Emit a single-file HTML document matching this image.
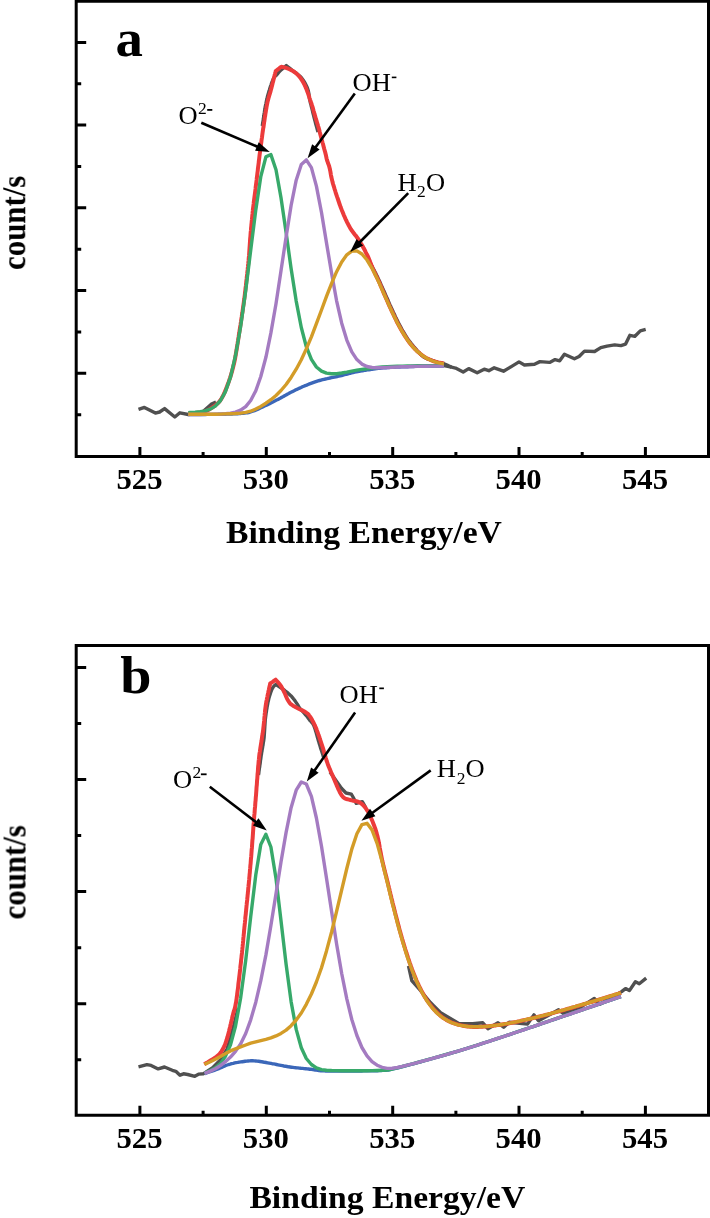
<!DOCTYPE html>
<html><head><meta charset="utf-8">
<style>
html,body{margin:0;padding:0;background:#fff;}
body{width:710px;height:1218px;overflow:hidden;}
svg{display:block;}
text{font-family:"Liberation Serif",serif;}
</style></head><body>
<svg width="710" height="1218" viewBox="0 0 710 1218">
<g stroke="#000" stroke-width="3" fill="none">
<path d="M76.2 1.3H708.5V456.4H76.2Z"/>
<path d="M76.2 42.4H86.2M76.2 125.12H86.2M76.2 207.84H86.2M76.2 290.56H86.2M76.2 373.28H86.2M76.2 83.75999999999999H81.2M76.2 166.48H81.2M76.2 249.20000000000002H81.2M76.2 331.91999999999996H81.2M76.2 414.64H81.2M139.9 456.4V446.9M266.3 456.4V446.9M392.7 456.4V446.9M519.0 456.4V446.9M645.4 456.4V446.9M203.1 456.4V451.9M329.5 456.4V451.9M455.9 456.4V451.9M582.2 456.4V451.9"/>
</g>
<g stroke="#000" stroke-width="3" fill="none">
<path d="M76.2 645.4H708.5V1115.3H76.2Z"/>
<path d="M76.2 667.4H86.2M76.2 779.5H86.2M76.2 891.5999999999999H86.2M76.2 1003.6999999999999H86.2M76.2 723.4499999999999H81.2M76.2 835.55H81.2M76.2 947.65H81.2M76.2 1059.75H81.2M139.9 1115.3V1105.8M266.3 1115.3V1105.8M392.7 1115.3V1105.8M519.0 1115.3V1105.8M645.4 1115.3V1105.8M203.1 1115.3V1110.8M329.5 1115.3V1110.8M455.9 1115.3V1110.8M582.2 1115.3V1110.8"/>
</g>
<g fill="none" stroke-width="3.4" stroke-linejoin="round" stroke-linecap="butt">
<path d="M138.5 409.4L144.4 407.4L155.4 413.1L159.6 412.0L164.6 408.6L174.8 417.0L179.9 412.8L188.3 414.5L202.0 412.5L211.0 404.4L216.0 402.0" stroke="#505050"/>
<path d="M443.9 365.5L451.5 367.2L455.5 368.1L463.2 372.0L468.7 368.6L477.2 372.7L484.2 369.2L488.8 370.7L494.2 367.8L503.5 371.2L511.3 366.6L519.0 361.9L524.4 365.0L534.5 364.2L539.9 361.6L549.6 362.4L555.1 359.6L559.7 360.8L564.4 354.2L574.4 358.8L579.1 356.5L584.5 351.1L594.6 351.5L600.8 347.6L607.0 346.1L614.7 344.9L620.9 345.6L625.6 344.1L629.9 335.3L634.9 336.3L640.3 330.9L645.7 329.4" stroke="#505050"/>
<path d="M262.3 126.0L262.4 125.1L262.6 123.8L262.8 122.3L263.1 120.7L263.4 118.9L263.6 117.1L263.9 115.4L264.1 113.8L264.4 112.3L264.6 110.7L264.9 109.2L265.1 107.7L265.4 106.2L265.7 104.7L266.0 103.3L266.3 101.7L266.6 100.3L267.0 98.8L267.3 97.3L267.7 95.8L268.1 94.3L268.5 92.9L268.9 91.4L269.4 90.0L269.8 88.5L270.3 86.9L270.9 85.3L271.4 83.7L272.0 82.2L272.5 80.8L273.0 79.6L273.5 78.5L274.6 76.8L275.5 75.9L276.6 74.9L277.5 73.8L278.5 72.6L279.6 71.4L280.7 70.3L282.0 69.2L283.4 68.0L284.7 66.9L285.8 66.0L286.3 65.6L287.2 66.3L288.5 67.3L289.9 68.4L291.4 69.6L292.6 70.5L293.9 71.5L295.1 72.3L296.2 73.2L297.4 74.1L298.5 75.0L299.7 76.0L300.8 77.0L301.8 78.2L302.7 79.4L303.6 80.7L304.5 82.1L305.3 83.5L306.0 84.9L306.6 86.2L307.2 87.5L307.7 88.9L308.2 90.5L308.5 91.8L308.8 93.3L309.0 94.8L309.2 96.4L309.4 98.0L309.7 99.5L310.0 101.0L310.3 102.5L310.7 103.9L311.1 105.3L311.4 106.8L311.9 108.4L312.2 109.9L312.6 111.3L312.9 112.8L313.3 114.4L313.7 115.9L314.1 117.5L314.5 119.0L314.9 120.5L315.3 122.1L315.7 123.8L316.2 125.5L316.7 127.2L317.1 128.9L317.5 130.3L317.8 131.4L318.0 132.0" stroke="#505050"/>
<path d="M368.0 259.9L368.5 260.7L369.1 261.8L369.9 263.0L370.8 264.4L371.7 265.9L372.6 267.5L373.5 269.0L374.2 270.4L374.9 271.7L375.6 273.0L376.2 274.3L376.9 275.7L377.6 277.1L378.2 278.5L378.9 279.9L379.6 281.3L380.2 282.7L380.8 284.1L381.4 285.5L382.1 286.9L382.7 288.3L383.3 289.7L383.9 291.1L384.6 292.5L385.2 293.9L385.8 295.3L386.4 296.7L387.0 298.1L387.7 299.5L388.3 301.0L388.9 302.4L389.5 303.8L390.1 305.2L390.8 306.6L391.4 307.9L392.0 309.3L392.7 310.7L393.3 312.2L394.0 313.6L394.7 315.0L395.3 316.5L396.0 317.9L396.7 319.2L397.3 320.6L398.0 321.9L398.7 323.3L399.4 324.7L400.2 326.1L400.9 327.4L401.6 328.7L402.3 330.0L403.0 331.3L403.8 332.5L404.6 333.8L405.4 335.2L406.3 336.6L407.1 337.9L408.0 339.2L408.9 340.4L409.7 341.6L410.7 342.9L411.7 344.2L412.7 345.4L413.7 346.6L414.7 347.7L415.7 348.8L416.7 350.1L417.8 351.3L418.8 352.5L419.8 353.6L420.8 354.6L422.0 355.7L423.3 356.7L424.6 357.5L426.0 358.3L427.4 358.9L428.9 359.4L430.5 359.8L432.0 360.3L433.5 360.8L435.0 361.4L436.5 361.9L438.0 362.4L439.4 362.7L440.8 363.0L442.3 363.2L443.9 363.7L445.3 364.3L447.0 365.0L448.6 365.8L450.1 366.5L451.2 367.1L451.5 367.2" stroke="#505050"/>
<path d="M188.3 413.5L189.3 413.4L190.5 413.3L192.0 413.2L193.7 413.1L195.5 413.0L197.4 412.8L199.1 412.6L200.8 412.4L202.3 412.1L203.8 411.7L205.4 411.2L206.8 410.7L208.0 410.1L209.3 409.4L210.5 408.6L211.8 407.8L213.0 407.0L214.2 406.2L215.4 405.3L216.6 404.3L217.7 403.3L218.9 402.1L220.0 400.8L220.8 399.6L221.5 398.5L222.2 397.3L222.9 396.1L223.5 394.8L224.2 393.4L224.8 391.9L225.5 390.4L226.1 388.8L226.8 387.1L227.3 385.7L227.7 384.5L228.2 383.2L228.7 381.9L229.1 380.6L229.6 379.2L230.1 377.8L230.5 376.4L231.0 374.9L231.4 373.4L231.9 371.9L232.3 370.3L232.7 368.8L233.1 367.2L233.5 365.6L233.9 364.0L234.2 362.7L234.5 361.3L234.8 359.9L235.1 358.5L235.3 357.1L235.6 355.7L235.8 354.2L236.1 352.7L236.3 351.3L236.6 349.7L236.8 348.2L237.1 346.7L237.3 345.1L237.6 343.5L237.8 341.9L238.1 340.3L238.3 338.7L238.6 337.0L238.8 335.6L239.0 334.2L239.3 332.7L239.5 331.2L239.7 329.7L240.0 328.2L240.2 326.6L240.5 325.0L240.7 323.4L241.0 321.8L241.2 320.3L241.4 318.7L241.7 317.1L241.9 315.5L242.1 313.9L242.4 312.4L242.6 310.9L242.8 309.4L243.0 307.9L243.2 306.5L243.4 305.2L243.6 303.9L243.8 302.4L244.0 300.6L244.3 298.9L244.5 297.2L244.7 295.7L244.9 294.1L245.0 292.7L245.2 291.2L245.4 289.8L245.5 288.4L245.7 287.0L245.9 285.7L246.0 284.3L246.2 282.9L246.3 281.4L246.5 280.0L246.7 278.5L246.8 277.0L247.0 275.5L247.2 274.0L247.3 272.5L247.5 271.0L247.7 269.5L247.8 268.0L248.0 266.5L248.1 265.0L248.3 263.5L248.4 262.0L248.6 260.5L248.7 259.0L248.8 257.5L249.0 256.0L249.1 254.6L249.2 253.1L249.3 251.7L249.4 250.2L249.5 248.7L249.6 247.2L249.7 245.8L249.8 244.3L249.9 242.8L250.0 241.2L250.1 239.7L250.2 238.2L250.4 236.6L250.5 235.0L250.6 233.6L250.7 232.1L250.9 230.7L251.0 229.2L251.1 227.7L251.3 226.1L251.4 224.6L251.6 223.1L251.7 221.6L251.9 220.0L252.0 218.5L252.2 217.0L252.3 215.4L252.5 213.9L252.6 212.4L252.8 210.9L252.9 209.5L253.1 208.0L253.3 206.4L253.5 204.9L253.7 203.4L253.8 201.9L254.0 200.4L254.2 198.9L254.4 197.4L254.6 196.0L254.8 194.5L255.0 193.0L255.2 191.5L255.4 190.0L255.6 188.5L255.7 187.0L255.9 185.5L256.1 184.0L256.3 182.5L256.5 181.0L256.7 179.5L256.8 178.0L257.0 176.4L257.2 174.9L257.4 173.3L257.6 171.8L257.8 170.3L257.9 168.7L258.1 167.2L258.3 165.7L258.5 164.3L258.7 162.8L258.8 161.4L259.0 160.0L259.2 158.4L259.4 156.7L259.6 155.1L259.8 153.5L260.0 151.9L260.2 150.3L260.4 148.8L260.6 147.3L260.8 145.8L261.0 144.4L261.2 143.0L261.4 141.6L261.5 140.3L261.7 139.1L262.0 137.2L262.2 135.5L262.4 134.0L262.6 132.5L262.8 131.1L263.0 129.8L263.2 128.4L263.5 127.0L263.7 125.5L263.9 124.0L264.1 122.4L264.4 120.8L264.6 119.3L264.8 117.7L265.1 116.2L265.3 114.7L265.5 113.3L265.8 111.7L266.0 110.1L266.3 108.6L266.5 107.2L266.8 105.7L267.1 104.2L267.4 102.7L267.7 101.2L268.1 99.9L268.4 98.5L268.8 97.2L269.2 95.8L269.6 94.4L270.1 92.8L270.6 91.1L271.0 89.5L271.4 88.1L271.8 86.6L272.2 85.0L272.6 83.3L273.1 81.5L273.5 79.8L273.9 78.0L274.4 76.4L274.7 74.9L275.1 73.5L275.4 72.3L275.6 71.4L275.7 71.1L276.7 70.3L278.2 69.2L279.7 67.9L280.9 67.0L281.2 66.8L282.4 67.0L284.2 67.4L285.9 67.9L287.4 68.4L288.9 69.0L290.4 69.7L291.8 70.4L293.1 71.1L294.4 72.0L295.6 72.9L296.7 73.8L297.8 74.9L298.9 76.0L299.9 77.2L300.8 78.4L301.6 79.7L302.5 81.0L303.3 82.4L304.0 83.8L304.7 85.1L305.3 86.5L305.9 87.9L306.5 89.3L307.0 90.7L307.6 92.2L308.1 93.7L308.6 95.1L309.1 96.6L309.5 98.1L310.0 99.6L310.5 100.9L311.0 102.3L311.5 103.7L312.0 105.4L312.5 106.9L312.9 108.2L313.3 109.7L313.7 111.3L314.2 112.9L314.6 114.5L315.1 116.0L315.5 117.5L315.9 119.0L316.4 120.4L316.8 121.8L317.2 123.2L317.7 124.6L318.1 126.1L318.6 127.6L319.0 129.0L319.4 130.5L319.7 131.9L320.1 133.4L320.5 135.0L320.9 136.5L321.3 138.0L321.7 139.5L322.1 141.0L322.5 142.5L323.0 144.1L323.4 145.7L323.8 147.2L324.2 148.8L324.6 150.2L325.0 151.6L325.3 152.8L325.8 154.7L326.1 156.2L326.4 157.6L326.7 159.0L327.1 160.5L327.6 161.8L328.0 163.0L328.5 164.4L329.1 166.0L329.6 168.0L329.9 169.1L330.1 170.3L330.4 171.6L330.6 172.9L330.8 174.3L331.1 175.8L331.4 177.3L331.8 178.9L332.2 180.6L332.6 182.4L333.1 184.1L333.5 185.3L333.9 186.6L334.3 188.0L334.7 189.4L335.2 190.8L335.6 192.3L336.1 193.9L336.6 195.4L337.1 196.9L337.7 198.5L338.2 200.0L338.7 201.5L339.2 203.0L339.7 204.5L340.2 205.9L340.7 207.3L341.2 208.6L341.8 210.1L342.5 211.7L343.1 213.3L343.7 214.8L344.4 216.3L345.0 217.7L345.6 219.1L346.3 220.5L346.9 221.9L347.6 223.2L348.2 224.4L348.8 225.6L349.5 226.8L350.2 228.1L351.1 229.5L352.0 230.8L352.9 232.0L353.8 233.2L354.6 234.3L355.5 235.3L356.4 236.5L357.3 237.7L358.2 238.9L359.0 240.2L359.8 241.4L360.5 242.7L361.3 244.0L362.1 245.3L362.9 246.7L363.6 248.1L364.4 249.5L365.1 250.8L365.8 252.3L366.5 253.7L367.2 255.0L367.9 256.4L368.5 257.8L369.1 259.3L369.7 260.8L370.3 262.3L370.9 263.7L371.5 265.2L372.1 266.6L372.6 268.0L373.1 269.3L373.7 270.5L374.3 271.9L375.0 273.4L375.6 274.8L376.3 276.1L376.9 277.3L377.5 278.5L378.1 279.8L378.8 281.3L379.4 282.6L379.9 283.9L380.5 285.3L381.1 286.6L381.7 288.1L382.3 289.5L382.9 291.0L383.5 292.4L384.1 293.9L384.8 295.4L385.4 296.8L386.0 298.1L386.6 299.5L387.2 300.8L387.8 302.2L388.4 303.6L389.0 305.0L389.6 306.4L390.3 307.8L390.9 309.2L391.6 310.6L392.2 312.0L392.9 313.3L393.5 314.7L394.2 316.1L394.8 317.5L395.5 318.8L396.2 320.2L396.8 321.6L397.5 323.0L398.3 324.4L399.0 325.8L399.7 327.1L400.5 328.5L401.2 329.8L402.0 331.1L402.8 332.4L403.6 333.8L404.4 335.1L405.2 336.4L406.1 337.7L406.9 339.0L407.7 340.2L408.6 341.4L409.4 342.6L410.3 343.7L411.4 345.0L412.4 346.2L413.5 347.4L414.5 348.5L415.6 349.6L416.7 350.7L417.8 351.7L418.9 352.6L419.9 353.5L421.0 354.4L422.3 355.4L423.6 356.3L424.9 357.1L426.2 357.9L427.5 358.6L428.9 359.2L430.2 359.8L431.5 360.4L433.0 361.0L434.6 361.5L436.3 361.9L438.1 362.4L439.7 362.7L441.3 363.0L442.6 363.3L443.6 363.5L443.9 363.6" stroke="#ec3b3b" stroke-width="4.0"/>
<path d="M188.3 414.5L189.1 414.5L190.1 414.5L191.2 414.5L192.5 414.5L193.9 414.5L195.3 414.5L196.9 414.5L198.5 414.5L200.2 414.5L201.9 414.5L203.6 414.5L205.4 414.5L207.2 414.4L209.0 414.4L210.7 414.4L212.4 414.4L214.1 414.4L215.7 414.4L217.2 414.4L218.7 414.3L220.0 414.3L221.8 414.3L223.6 414.2L225.3 414.2L227.0 414.1L228.7 414.1L230.3 414.0L231.9 414.0L233.4 413.9L234.9 413.8L236.3 413.8L237.7 413.7L239.0 413.6L240.3 413.5L241.5 413.4L243.0 413.2L244.8 413.0L246.2 412.9L247.5 412.7L248.7 412.5L249.9 412.2L251.2 411.7L252.8 411.2L254.5 410.6L255.6 410.1L256.8 409.6L258.1 409.1L259.4 408.5L260.8 407.8L262.2 407.2L263.6 406.5L265.0 405.8L266.5 405.1L268.0 404.4L269.5 403.7L270.9 402.9L272.4 402.2L273.8 401.5L275.2 400.8L276.5 400.1L277.9 399.4L279.2 398.7L280.6 398.0L281.9 397.2L283.3 396.5L284.6 395.7L286.0 395.0L287.3 394.2L288.7 393.5L290.0 392.8L291.4 392.1L292.7 391.4L294.1 390.7L295.4 390.0L296.8 389.4L298.2 388.7L299.6 388.1L301.0 387.5L302.4 386.8L303.8 386.2L305.2 385.6L306.7 385.1L308.1 384.5L309.5 383.9L310.9 383.4L312.3 382.9L313.7 382.4L315.1 381.9L316.6 381.4L318.0 380.9L319.5 380.5L321.0 380.1L322.5 379.7L324.0 379.3L325.5 379.0L327.0 378.7L328.5 378.3L330.0 378.0L331.5 377.7L332.9 377.4L334.4 377.1L335.8 376.8L337.2 376.5L338.6 376.2L340.2 375.8L341.6 375.5L343.1 375.1L344.5 374.7L345.9 374.4L347.3 374.0L348.6 373.6L350.1 373.3L351.5 372.9L353.0 372.6L354.6 372.2L356.3 371.9L357.8 371.6L359.1 371.4L360.4 371.1L361.8 370.9L363.1 370.7L364.5 370.4L366.0 370.2L367.4 369.9L368.9 369.7L370.4 369.5L371.9 369.2L373.5 369.0L375.1 368.8L376.7 368.6L378.3 368.4L380.0 368.2L381.7 368.1L383.2 367.9L384.6 367.8L386.0 367.7L387.4 367.6L388.9 367.5L390.4 367.4L391.9 367.3L393.5 367.2L395.0 367.2L396.6 367.1L398.2 367.0L399.8 367.0L401.4 366.9L403.0 366.8L404.5 366.8L406.1 366.7L407.7 366.7L409.2 366.6L410.7 366.6L412.2 366.5L413.6 366.5L415.1 366.4L416.6 366.4L418.3 366.3L420.0 366.3L421.8 366.2L423.6 366.2L425.4 366.2L427.2 366.2L428.9 366.1L430.6 366.1L432.3 366.1L434.0 366.1L435.5 366.1L437.0 366.1L438.5 366.0L439.8 366.0L441.0 366.0L442.1 366.0L443.1 366.0L443.9 366.0" stroke="#3b67b9"/>
<path d="M188.3 412.6L190.1 412.5L195.1 412.2L200.2 411.7L205.2 410.8L210.3 409.1L215.3 406.1L220.4 400.8L225.4 391.6L230.5 377.1L235.5 355.7L240.6 326.7L245.7 290.7L250.7 250.2L255.8 209.9L260.8 176.6L265.9 156.8L270.9 154.6L276.0 169.7L281.0 197.7L286.1 232.6L291.1 268.6L296.2 301.1L301.3 327.5L306.3 346.7L311.4 359.4L316.4 367.0L321.5 371.1L326.5 373.1L331.6 373.8L336.6 373.7L341.7 373.0L346.8 372.1L351.8 371.1L356.9 370.2L361.9 369.4L367.0 368.7L372.0 368.0L377.1 367.5L382.1 367.0L387.2 366.7L392.2 366.5L397.3 366.3L402.4 366.1L407.4 366.0L412.5 365.9L417.5 365.8L422.6 365.7L427.6 365.6L432.7 365.6L437.7 365.6L442.8 365.6L443.9 365.6" stroke="#37a96a"/>
<path d="M188.3 414.5L190.1 414.5L195.1 414.5L200.2 414.5L205.2 414.4L210.3 414.4L215.3 414.3L220.4 414.1L225.4 413.8L230.5 413.2L235.5 412.1L240.6 410.1L245.7 406.6L250.7 400.5L255.8 390.7L260.8 376.5L265.9 357.3L270.9 332.9L276.0 303.7L281.0 270.8L286.1 236.9L291.1 205.5L296.2 180.2L301.3 164.4L306.3 159.9L311.4 167.6L316.4 186.1L321.5 212.5L326.5 242.9L331.6 273.3L336.6 300.8L341.7 323.2L346.8 340.1L351.8 351.9L356.9 359.6L361.9 364.1L367.0 366.5L372.0 367.5L377.1 367.7L382.1 367.7L387.2 367.5L392.2 367.2L397.3 367.0L402.4 366.8L407.4 366.7L412.5 366.5L417.5 366.4L422.6 366.2L427.6 366.2L432.7 366.1L437.7 366.1L442.8 366.0L443.9 366.0" stroke="#a47bc1"/>
<path d="M188.3 414.3L190.1 414.3L195.1 414.3L200.2 414.3L205.2 414.3L210.3 414.2L215.3 414.2L220.4 414.1L225.4 413.9L230.5 413.7L235.5 413.5L240.6 413.1L245.7 412.4L250.7 411.2L255.8 409.0L260.8 406.4L265.9 403.2L270.9 399.7L276.0 395.5L281.0 390.5L286.1 384.5L291.1 377.4L296.2 369.2L301.3 359.7L306.3 348.9L311.4 336.8L316.4 323.7L321.5 310.0L326.5 296.4L331.6 283.4L336.6 271.7L341.7 262.0L346.8 254.8L351.8 251.1L356.9 250.9L361.9 254.0L367.0 260.0L372.0 268.3L377.1 278.4L382.1 289.6L387.2 301.1L392.2 312.3L397.3 322.7L402.4 332.0L407.4 339.9L412.5 346.5L417.5 351.7L422.6 355.7L427.6 358.8L432.7 361.0L437.7 362.6L442.8 363.7L443.9 363.8" stroke="#d39c28"/>
</g>
<g fill="none" stroke-width="3.4" stroke-linejoin="round" stroke-linecap="butt">
<path d="M138.5 1066.8L146.9 1064.6L151.1 1065.4L158.2 1068.9L164.5 1067.0L172.3 1070.3L175.8 1071.3L180.0 1075.2L183.5 1073.8L187.7 1074.5L194.8 1076.3L199.0 1074.1L203.2 1073.8L212.7 1067.6L221.1 1059.2L227.0 1049.0L230.4 1038.0L233.8 1025.4L238.0 1008.5" stroke="#505050"/>
<path d="M258.5 775.0L258.6 774.1L258.8 773.1L258.9 771.8L259.1 770.4L259.3 768.8L259.6 767.2L259.8 765.5L260.1 763.7L260.3 762.0L260.5 760.3L260.8 758.6L261.0 757.0L261.2 755.5L261.5 753.9L261.7 752.4L262.0 750.9L262.2 749.4L262.5 747.9L262.7 746.5L263.0 745.1L263.2 743.6L263.4 742.1L263.7 740.6L263.9 739.1L264.1 737.5L264.2 736.1L264.3 734.7L264.4 733.2L264.5 731.7L264.6 730.1L264.7 728.6L264.8 727.0L264.9 725.5L265.0 723.9L265.1 722.4L265.2 720.9L265.3 719.4L265.5 718.0L265.7 716.4L265.9 714.8L266.1 713.2L266.4 711.6L266.6 710.0L266.9 708.5L267.1 706.9L267.4 705.4L267.7 704.0L267.9 702.6L268.2 701.3L268.5 700.0L268.9 698.2L269.4 696.5L269.9 694.9L270.4 693.4L270.9 692.0L271.4 690.7L271.8 689.5L272.3 688.5L273.5 686.6L274.6 685.5L275.5 684.7L275.7 684.5L276.6 685.1L277.9 685.9L279.4 686.9L280.8 687.8L282.0 688.6L283.3 689.5L284.7 690.5L286.0 691.5L287.1 692.4L288.3 693.4L289.5 694.5L290.6 695.6L291.7 696.6L292.7 697.8L293.6 699.0L294.6 700.2L295.4 701.4L296.2 702.6L297.1 703.9L297.9 705.2L298.6 706.4L299.4 707.7L300.3 708.9L301.3 710.0L302.4 711.2L303.5 712.4L304.6 713.6L305.6 714.8L306.6 716.0L307.6 717.2L308.5 718.5L309.4 719.7L310.3 720.9L311.3 721.9L312.1 722.8L313.0 724.0L314.0 726.0L314.4 727.1L314.8 728.3L315.3 729.7L315.7 731.2L316.2 732.7L316.6 734.3L317.1 736.0L317.5 737.6L318.0 739.2L318.4 740.8L318.9 742.2L319.3 743.8L319.9 745.5L320.4 747.2L320.9 748.9L321.5 750.6L322.0 752.2L322.5 753.7L322.9 755.0L323.2 756.1L323.5 757.0" stroke="#505050"/>
<path d="M330.0 772.0L341.4 788.3L346.0 793.0L351.3 794.1L353.0 797.0L356.3 803.4L362.3 801.7L366.0 808.0" stroke="#505050"/>
<path d="M408.5 966.0L411.8 980.6L420.0 990.0L430.4 1002.5L433.8 1005.9L440.6 1012.7L459.2 1023.7L472.7 1023.7L482.8 1022.8L487.9 1028.7L498.0 1022.8L503.7 1027.2L509.2 1022.3L527.5 1024.1L533.9 1014.9L538.5 1020.8L558.6 1009.8L563.2 1013.5L580.6 1007.1L594.3 998.4L599.8 1004.3L621.6 991.6L625.5 988.6L629.4 990.6L635.4 981.7L639.3 983.7L646.2 978.1" stroke="#505050"/>
<path d="M204.2 1064.2L205.1 1063.7L206.3 1063.0L207.8 1062.2L209.3 1061.3L210.9 1060.3L212.3 1059.5L213.6 1058.6L215.0 1057.7L216.3 1056.9L217.5 1055.9L218.7 1054.9L219.7 1053.7L220.6 1052.6L221.5 1051.3L222.3 1049.9L223.1 1048.5L223.8 1047.1L224.5 1045.6L225.1 1044.2L225.6 1042.8L226.1 1041.4L226.6 1039.9L227.0 1038.4L227.5 1037.0L227.9 1035.5L228.3 1034.0L228.7 1032.5L229.1 1031.0L229.4 1029.5L229.8 1028.0L230.2 1026.4L230.5 1024.9L230.9 1023.5L231.2 1022.1L231.5 1020.6L231.9 1019.2L232.2 1017.6L232.6 1016.1L233.0 1014.4L233.3 1013.2L233.6 1012.1L233.9 1011.1L234.3 1010.1L234.6 1009.0L235.0 1007.6L235.3 1006.0L235.7 1004.0L236.2 1001.5L236.4 999.8L236.6 998.7L236.7 997.6L236.9 996.3L237.1 995.1L237.2 993.7L237.4 992.3L237.6 990.9L237.8 989.4L238.0 987.9L238.2 986.3L238.3 984.8L238.5 983.1L238.7 981.5L238.9 979.9L239.1 978.2L239.3 976.5L239.5 974.9L239.7 973.2L239.9 971.5L240.1 969.9L240.3 968.2L240.4 966.6L240.6 965.0L240.8 963.4L241.0 961.8L241.1 960.3L241.3 958.8L241.5 957.3L241.6 955.7L241.8 954.2L242.0 952.7L242.1 951.2L242.3 949.7L242.4 948.2L242.6 946.7L242.7 945.2L242.9 943.7L243.0 942.2L243.2 940.7L243.3 939.2L243.4 937.7L243.6 936.2L243.7 934.8L243.9 933.3L244.0 931.8L244.1 930.3L244.3 928.8L244.4 927.3L244.6 925.9L244.7 924.4L244.9 922.9L245.0 921.4L245.2 919.9L245.3 918.4L245.4 916.9L245.6 915.4L245.8 913.8L245.9 912.3L246.1 910.8L246.2 909.2L246.4 907.6L246.5 906.1L246.7 904.5L246.8 903.0L247.0 901.4L247.2 899.9L247.3 898.3L247.5 896.8L247.6 895.3L247.8 893.8L247.9 892.3L248.1 890.8L248.2 889.3L248.3 887.9L248.5 886.4L248.6 885.0L248.8 883.6L248.9 882.2L249.0 880.9L249.2 879.4L249.3 877.7L249.5 876.1L249.6 874.4L249.8 872.8L249.9 871.3L250.0 869.7L250.2 868.2L250.3 866.7L250.4 865.3L250.6 863.8L250.7 862.4L250.8 860.9L250.9 859.5L251.0 858.1L251.2 856.7L251.3 855.2L251.4 853.8L251.5 852.4L251.6 851.0L251.7 849.5L251.9 847.9L252.0 846.4L252.1 844.9L252.2 843.3L252.3 841.8L252.4 840.3L252.6 838.8L252.7 837.3L252.8 835.8L252.9 834.3L253.0 832.8L253.1 831.3L253.2 829.9L253.3 828.4L253.4 826.9L253.5 825.4L253.6 824.0L253.8 822.5L253.9 821.0L254.0 819.5L254.1 818.0L254.2 816.6L254.3 815.1L254.5 813.7L254.6 812.3L254.7 810.8L254.8 809.4L254.9 808.0L255.1 806.5L255.2 805.1L255.3 803.6L255.4 802.0L255.6 800.5L255.7 798.9L255.8 797.3L256.0 795.6L256.1 794.1L256.2 792.7L256.3 791.3L256.4 789.8L256.5 788.2L256.6 786.7L256.8 785.1L256.9 783.5L257.0 781.8L257.1 780.2L257.3 778.6L257.4 776.9L257.5 775.3L257.6 773.7L257.8 772.1L257.9 770.5L258.0 769.0L258.1 767.5L258.2 766.0L258.4 764.6L258.5 763.3L258.6 762.0L258.7 760.8L258.9 759.3L259.1 757.2L259.3 755.3L259.5 753.6L259.8 752.1L260.0 750.6L260.2 749.2L260.4 747.9L260.6 746.7L260.8 745.4L261.0 744.1L261.2 742.8L261.5 741.2L261.7 739.7L261.9 738.2L262.1 736.8L262.3 735.4L262.6 734.0L262.8 732.5L263.0 731.0L263.2 729.4L263.4 727.6L263.6 726.1L263.7 724.8L263.9 723.4L264.0 722.0L264.2 720.5L264.3 719.0L264.4 717.4L264.6 715.9L264.7 714.3L264.9 712.7L265.0 711.1L265.2 709.6L265.4 708.0L265.6 706.5L265.8 705.0L266.1 703.4L266.3 701.8L266.7 700.1L267.0 698.4L267.4 696.6L267.7 694.9L268.1 693.2L268.4 691.5L268.8 689.9L269.1 688.4L269.4 687.0L269.7 685.8L270.0 684.7L270.1 683.8L270.2 683.5L271.2 682.8L272.7 681.8L274.2 680.7L275.4 679.9L275.7 679.7L276.4 680.5L277.4 681.6L278.6 682.9L279.7 684.3L280.7 685.6L281.5 686.9L282.3 688.3L283.0 689.7L283.7 691.1L284.4 692.5L285.1 694.0L285.7 695.5L286.3 696.9L286.9 698.3L287.6 699.7L288.4 701.0L289.2 702.3L290.1 703.4L291.2 704.4L292.3 705.2L293.5 706.0L294.9 706.7L296.4 707.6L297.7 708.3L299.1 709.0L300.6 709.7L302.2 710.4L303.6 711.1L305.0 711.8L306.2 712.7L307.5 713.6L308.5 714.5L309.3 715.6L310.3 716.9L311.0 718.0L311.8 719.3L312.5 720.7L313.3 722.2L314.0 723.6L314.6 725.0L315.2 726.2L315.7 727.4L316.3 728.7L316.8 730.2L317.5 731.9L318.0 733.3L318.4 734.5L318.9 735.8L319.4 737.2L319.8 738.7L320.3 740.2L320.8 741.7L321.3 743.2L321.8 744.7L322.3 746.2L322.8 747.7L323.3 749.2L323.7 750.6L324.1 752.1L324.6 753.6L325.0 755.1L325.4 756.6L325.8 758.1L326.3 759.6L326.7 761.0L327.2 762.4L327.7 763.8L328.2 765.3L328.7 766.6L329.3 767.9L329.8 769.2L330.4 770.5L330.9 771.9L331.6 773.3L332.3 774.8L333.0 776.5L333.5 777.7L334.1 779.1L334.7 780.5L335.3 782.0L336.0 783.6L336.6 785.1L337.3 786.7L338.0 788.3L338.7 789.8L339.4 791.2L340.0 792.6L340.7 793.8L341.4 794.9L342.0 795.8L343.4 797.4L344.8 798.4L346.2 799.0L347.6 799.3L349.0 799.6L350.4 800.0L351.8 800.4L353.4 800.8L354.9 801.0L356.4 801.3L357.9 801.7L359.3 802.3L360.5 803.0L361.7 803.9L362.8 804.8L363.8 805.9L364.8 807.0L365.8 808.4L366.7 809.7L367.5 810.8L368.2 812.0L368.9 813.3L369.6 814.7L370.2 816.1L370.9 817.5L371.5 819.0L372.2 820.6L372.7 821.9L373.2 823.2L373.7 824.5L374.2 825.8L374.7 827.1L375.2 828.5L375.7 829.9L376.1 831.4L376.6 832.9L377.0 834.6L377.5 836.3L377.8 837.6L378.1 838.9L378.4 840.2L378.7 841.6L378.9 843.0L379.2 844.5L379.5 846.0L379.7 847.5L380.0 849.1L380.3 850.6L380.6 852.2L380.9 853.7L381.2 855.3L381.5 856.8L381.8 858.4L382.1 859.9L382.4 861.3L382.8 862.7L383.1 864.1L383.4 865.6L383.8 867.0L384.1 868.4L384.5 869.8L384.8 871.3L385.2 872.7L385.6 874.2L386.0 875.7L386.3 877.1L386.7 878.6L387.1 880.2L387.5 881.7L387.9 883.3L388.2 884.7L388.6 886.1L388.9 887.5L389.3 889.0L389.6 890.4L390.0 891.9L390.3 893.4L390.7 894.9L391.1 896.4L391.4 897.9L391.8 899.4L392.2 900.9L392.5 902.4L392.9 903.9L393.3 905.4L393.7 906.9L394.0 908.4L394.4 909.8L394.8 911.3L395.1 912.7L395.5 914.2L395.9 915.7L396.3 917.2L396.7 918.7L397.0 920.1L397.4 921.6L397.8 923.0L398.2 924.5L398.6 925.9L398.9 927.4L399.3 928.8L399.7 930.2L400.1 931.6L400.5 933.1L400.9 934.5L401.3 935.9L401.7 937.3L402.1 938.8L402.6 940.2L403.0 941.7L403.4 943.2L403.9 944.7L404.3 946.2L404.8 947.6L405.2 949.1L405.7 950.6L406.2 952.1L406.6 953.5L407.1 954.9L407.6 956.4L408.0 957.8L408.5 959.2L408.9 960.5L409.4 961.9L409.8 963.2L410.4 964.6L410.9 966.2L411.5 967.7L412.0 969.2L412.6 970.7L413.1 972.1L413.7 973.5L414.2 974.9L414.8 976.3L415.3 977.6L415.9 978.9L416.4 980.2L417.0 981.6L417.6 982.8L418.2 984.2L418.9 985.7L419.6 987.1L420.3 988.5L421.0 989.9L421.7 991.3L422.4 992.6L423.2 994.0L423.9 995.3L424.6 996.6L425.4 997.8L426.2 999.1L427.0 1000.3L427.9 1001.6L428.8 1002.9L429.7 1004.2L430.7 1005.4L431.7 1006.7L432.6 1007.9L433.6 1009.0L434.6 1010.2L435.6 1011.2L436.6 1012.3L437.7 1013.3L438.8 1014.3L440.0 1015.4L441.2 1016.3L442.3 1017.3L443.5 1018.1L444.8 1018.9L446.0 1019.7L447.3 1020.4L448.6 1021.1L450.0 1021.8L451.3 1022.4L452.7 1022.9L454.1 1023.4L455.6 1023.9L457.1 1024.3L458.6 1024.8L460.1 1025.1L461.6 1025.4L463.0 1025.7L464.5 1026.0L466.0 1026.3L467.4 1026.5L468.9 1026.6L470.3 1026.7L471.7 1026.8L473.2 1026.9L474.6 1026.9L476.2 1026.9L477.7 1026.9L479.4 1026.8L480.9 1026.8L482.3 1026.7L483.7 1026.6L485.1 1026.5L486.6 1026.4L488.1 1026.2L489.7 1026.1L491.2 1025.9L492.8 1025.7L494.4 1025.5L495.9 1025.4L497.5 1025.1L499.0 1024.9L500.5 1024.7L502.0 1024.5L503.4 1024.3L504.8 1024.1L506.1 1023.9L507.5 1023.6L508.9 1023.4L510.3 1023.1L511.8 1022.8L513.3 1022.5L514.8 1022.2L516.5 1021.9L518.2 1021.5L520.0 1021.1L521.2 1020.8L522.5 1020.5L523.8 1020.2L525.2 1019.9L526.6 1019.6L528.0 1019.3L529.4 1019.0L530.8 1018.6L532.3 1018.3L533.8 1017.9L535.3 1017.5L536.9 1017.2L538.4 1016.8L540.0 1016.4L541.5 1016.0L543.1 1015.6L544.7 1015.2L546.3 1014.8L547.9 1014.4L549.5 1013.9L550.9 1013.6L552.3 1013.2L553.7 1012.8L555.1 1012.4L556.5 1012.1L557.9 1011.7L559.3 1011.3L560.8 1010.9L562.2 1010.5L563.7 1010.1L565.2 1009.6L566.6 1009.2L568.1 1008.8L569.6 1008.4L571.1 1008.0L572.6 1007.5L574.1 1007.1L575.6 1006.7L577.1 1006.2L578.6 1005.8L580.1 1005.4L581.5 1004.9L583.0 1004.5L584.5 1004.0L586.0 1003.6L587.4 1003.2L589.0 1002.7L590.5 1002.2L592.2 1001.8L593.8 1001.3L595.4 1000.8L597.1 1000.2L598.8 999.7L600.5 999.2L602.1 998.7L603.8 998.2L605.4 997.7L607.0 997.2L608.6 996.7L610.1 996.2L611.6 995.8L613.0 995.4L614.3 994.9L615.6 994.5L616.8 994.2L617.9 993.8L618.9 993.5L619.8 993.2L620.7 993.0L620.9 992.9" stroke="#ec3b3b" stroke-width="4.0"/>
<path d="M204.5 1073.7L205.4 1073.4L206.5 1073.0L207.9 1072.5L209.4 1072.0L211.0 1071.4L212.7 1070.8L214.3 1070.3L215.9 1069.7L217.4 1069.1L218.8 1068.6L220.2 1068.0L221.6 1067.4L223.0 1066.7L224.4 1066.1L225.8 1065.5L227.2 1065.0L228.7 1064.5L230.1 1064.1L231.6 1063.6L233.2 1063.3L234.7 1062.9L236.2 1062.6L237.7 1062.4L239.3 1062.1L240.8 1061.9L242.3 1061.7L243.8 1061.5L245.2 1061.3L246.7 1061.1L248.1 1061.0L249.6 1060.9L251.1 1060.8L252.7 1060.8L254.3 1060.9L255.8 1061.0L257.2 1061.1L258.6 1061.3L260.0 1061.5L261.5 1061.7L263.0 1062.0L264.5 1062.3L266.0 1062.5L267.6 1062.8L269.2 1063.1L270.8 1063.4L272.2 1063.7L273.6 1063.9L275.1 1064.2L276.5 1064.5L278.0 1064.8L279.4 1065.1L280.9 1065.4L282.4 1065.7L283.9 1066.0L285.4 1066.2L286.9 1066.5L288.5 1066.8L290.0 1067.0L291.5 1067.2L293.0 1067.4L294.6 1067.6L296.2 1067.8L297.8 1067.9L299.4 1068.1L301.0 1068.3L302.6 1068.4L304.1 1068.6L305.7 1068.7L307.1 1068.9L308.5 1069.0L309.9 1069.2L311.5 1069.3L312.9 1069.6L314.2 1069.8L315.3 1070.0L316.4 1070.2L317.6 1070.4L319.0 1070.6L320.8 1070.7L323.0 1070.9L324.5 1070.9L325.7 1071.0L326.9 1071.0L328.3 1071.0L329.7 1071.0L331.1 1071.1L332.7 1071.1L334.2 1071.1L335.8 1071.1L337.5 1071.1L339.1 1071.1L340.8 1071.1L342.5 1071.1L344.2 1071.1L345.8 1071.1L347.5 1071.1L349.1 1071.1L350.7 1071.1L352.3 1071.0L353.8 1071.0L355.3 1071.0L356.7 1071.0L358.2 1071.0L360.0 1071.0L361.7 1071.0L363.4 1070.9L365.1 1070.9L366.8 1070.9L368.5 1070.9L370.1 1070.9L371.7 1070.8L373.2 1070.8L374.7 1070.8L376.2 1070.7L377.6 1070.7L378.9 1070.6L380.2 1070.6L381.4 1070.5L382.6 1070.4L384.4 1070.3L386.0 1070.2L387.3 1070.1L388.3 1070.0L389.3 1069.8L390.4 1069.6L392.0 1069.2L394.1 1068.7L395.7 1068.3L396.8 1068.1L397.9 1067.8L399.1 1067.5L400.3 1067.2L401.6 1066.9L402.9 1066.5L404.3 1066.2L405.8 1065.8L407.2 1065.4L408.7 1065.0L410.2 1064.6L411.8 1064.2L413.4 1063.8L415.0 1063.3L416.6 1062.9L418.2 1062.4L419.8 1062.0L421.5 1061.5L423.1 1061.1L424.8 1060.6L426.4 1060.2L427.9 1059.8L429.2 1059.4L430.5 1059.0L431.8 1058.7L433.1 1058.3L434.5 1057.9L435.8 1057.5L437.2 1057.2L438.5 1056.8L439.9 1056.4L441.3 1056.0L442.7 1055.6L444.1 1055.2L445.5 1054.8L447.0 1054.4L448.4 1053.9L449.9 1053.5L451.4 1053.1L452.9 1052.7L454.4 1052.2L455.9 1051.8L457.4 1051.3L459.0 1050.8L460.6 1050.4L462.2 1049.9L463.8 1049.4L465.4 1048.9L467.0 1048.4L468.4 1047.9L469.7 1047.5L470.9 1047.2L472.1 1046.8L473.4 1046.4L474.6 1046.0L475.8 1045.6L476.9 1045.3L478.1 1044.9L479.3 1044.5L480.5 1044.1L481.7 1043.7L482.9 1043.3L484.2 1042.9L485.4 1042.5L486.6 1042.1L487.9 1041.7L489.2 1041.3L490.5 1040.9L491.8 1040.4L493.1 1040.0L494.5 1039.5L495.9 1039.1L497.4 1038.6L498.8 1038.1L500.3 1037.6L501.9 1037.1L503.5 1036.5L505.1 1036.0L506.8 1035.4L508.5 1034.9L510.3 1034.3L512.1 1033.6L514.0 1033.0L515.9 1032.4L517.9 1031.7L520.0 1031.0L521.1 1030.6L522.2 1030.2L523.4 1029.9L524.6 1029.4L525.9 1029.0L527.1 1028.6L528.4 1028.1L529.8 1027.7L531.2 1027.2L532.5 1026.8L534.0 1026.3L535.4 1025.8L536.9 1025.3L538.4 1024.8L539.9 1024.3L541.4 1023.7L543.0 1023.2L544.6 1022.7L546.2 1022.1L547.8 1021.6L549.4 1021.0L551.0 1020.5L552.7 1019.9L554.3 1019.3L556.0 1018.8L557.7 1018.2L559.4 1017.6L561.0 1017.1L562.7 1016.5L564.4 1015.9L566.1 1015.3L567.8 1014.7L569.5 1014.2L571.2 1013.6L572.9 1013.0L574.6 1012.4L576.2 1011.9L577.9 1011.3L579.6 1010.7L581.2 1010.2L582.9 1009.6L584.5 1009.0L586.1 1008.5L587.7 1007.9L589.3 1007.4L590.9 1006.9L592.4 1006.3L594.0 1005.8L595.5 1005.3L597.0 1004.8L598.4 1004.3L599.9 1003.8L601.3 1003.3L602.7 1002.8L604.0 1002.4L605.4 1001.9L606.7 1001.5L607.9 1001.0L609.2 1000.6L610.4 1000.2L611.5 999.8L612.6 999.4L613.7 999.0L614.8 998.7L615.8 998.3L616.8 998.0L617.7 997.7L618.6 997.4L619.4 997.1L620.2 996.9L620.9 996.6" stroke="#3b67b9"/>
<path d="M204.5 1073.0L205.2 1072.8L210.3 1070.6L215.3 1067.8L220.4 1063.6L225.4 1056.4L230.5 1044.8L235.5 1026.2L240.6 998.3L245.7 960.6L250.7 916.8L255.8 874.7L260.8 844.4L265.9 834.3L270.9 847.0L276.0 878.6L281.0 920.8L286.1 964.2L291.1 1001.6L296.2 1029.4L301.3 1047.7L306.3 1058.5L311.4 1064.5L316.4 1067.9L321.5 1069.6L326.5 1070.2L331.6 1070.5L336.6 1070.6L341.7 1070.7L346.8 1070.7L351.8 1070.7L356.9 1070.7L361.9 1070.7L367.0 1070.7L372.0 1070.6L377.1 1070.5L382.1 1070.3L387.2 1070.0L392.2 1069.0L397.3 1067.8L402.4 1066.5L407.4 1065.2L412.5 1063.9L417.5 1062.5L422.6 1061.1L427.6 1059.7L432.7 1058.3L437.7 1056.9L442.8 1055.5L447.9 1054.0L452.9 1052.6L458.0 1051.1L463.0 1049.6L468.1 1048.0L473.1 1046.4L478.2 1044.8L483.2 1043.2L488.3 1041.5L493.3 1039.9L498.4 1038.2L503.5 1036.5L508.5 1034.8L513.6 1033.1L518.6 1031.4L523.7 1029.7L528.7 1028.0L533.8 1026.3L538.8 1024.6L543.9 1022.9L549.0 1021.1L554.0 1019.4L559.1 1017.7L564.1 1016.0L569.2 1014.3L574.2 1012.5L579.3 1010.8L584.3 1009.1L589.4 1007.3L594.5 1005.6L599.5 1003.9L604.6 1002.2L609.6 1000.4L614.7 998.7L619.7 997.0L620.9 996.6" stroke="#37a96a"/>
<path d="M204.5 1073.4L205.2 1073.1L210.3 1071.1L215.3 1068.7L220.4 1065.6L225.4 1061.7L230.5 1057.1L235.5 1051.4L240.6 1043.9L245.7 1033.5L250.7 1019.8L255.8 1002.2L260.8 980.7L265.9 954.9L270.9 925.5L276.0 893.8L281.0 861.9L286.1 832.4L291.1 807.7L296.2 790.2L301.3 782.0L306.3 784.0L311.4 796.3L316.4 818.0L321.5 846.2L326.5 878.2L331.6 911.6L336.6 944.0L341.7 973.5L346.8 998.8L351.8 1019.5L356.9 1035.5L361.9 1047.5L367.0 1055.9L372.0 1061.6L377.1 1065.2L382.1 1067.3L387.2 1068.4L392.2 1068.2L397.3 1067.5L402.4 1066.4L407.4 1065.2L412.5 1063.9L417.5 1062.6L422.6 1061.2L427.6 1059.8L432.7 1058.4L437.7 1057.0L442.8 1055.6L447.9 1054.1L452.9 1052.6L458.0 1051.1L463.0 1049.6L468.1 1048.1L473.1 1046.5L478.2 1044.9L483.2 1043.2L488.3 1041.6L493.3 1039.9L498.4 1038.2L503.5 1036.6L508.5 1034.9L513.6 1033.2L518.6 1031.5L523.7 1029.8L528.7 1028.0L533.8 1026.3L538.8 1024.6L543.9 1022.9L549.0 1021.2L554.0 1019.5L559.1 1017.7L564.1 1016.0L569.2 1014.3L574.2 1012.6L579.3 1010.8L584.3 1009.1L589.4 1007.4L594.5 1005.6L599.5 1003.9L604.6 1002.2L609.6 1000.5L614.7 998.7L619.7 997.0L620.9 996.6" stroke="#a47bc1"/>
<path d="M204.5 1064.4L205.2 1064.0L210.3 1061.7L215.3 1059.2L220.4 1056.5L225.4 1053.6L230.5 1050.9L235.5 1048.8L240.6 1046.9L245.7 1045.0L250.7 1043.2L255.8 1041.8L260.8 1040.6L265.9 1039.4L270.9 1037.9L276.0 1035.9L281.0 1033.4L286.1 1030.1L291.1 1025.7L296.2 1020.0L301.3 1013.0L306.3 1004.3L311.4 994.0L316.4 982.0L321.5 967.7L326.5 950.9L331.6 932.0L336.6 911.4L341.7 889.9L346.8 868.5L351.8 849.1L356.9 833.7L361.9 824.6L367.0 823.3L372.0 829.9L377.1 843.4L382.1 861.5L387.2 882.1L392.2 902.8L397.3 922.7L402.4 940.9L407.4 957.2L412.5 971.4L417.5 983.5L422.6 993.6L427.6 1001.8L432.7 1008.5L437.7 1013.7L442.8 1017.8L447.9 1020.9L452.9 1023.2L458.0 1024.8L463.0 1025.8L468.1 1026.5L473.1 1026.8L478.2 1026.8L483.2 1026.6L488.3 1026.2L493.3 1025.6L498.4 1025.0L503.5 1024.2L508.5 1023.3L513.6 1022.3L518.6 1021.3L523.7 1020.2L528.7 1019.0L533.8 1017.8L538.8 1016.6L543.9 1015.3L549.0 1014.0L554.0 1012.6L559.1 1011.2L564.1 1009.8L569.2 1008.4L574.2 1006.9L579.3 1005.4L584.3 1004.0L589.4 1002.5L594.5 1000.9L599.5 999.4L604.6 997.9L609.6 996.3L614.7 994.7L619.7 993.2L620.9 992.8" stroke="#d39c28"/>
</g>
<path d="M201.3 122.7L258.8 147.3" stroke="#000" stroke-width="2.6" fill="none"/>
<path d="M269.8 152.0L255.1 150.7L258.7 142.3Z" fill="#000"/>
<path d="M354.8 93.5L314.7 148.5" stroke="#000" stroke-width="2.6" fill="none"/>
<path d="M307.6 158.2L312.1 144.2L319.6 149.6Z" fill="#000"/>
<path d="M408.2 193.1L358.5 243.5" stroke="#000" stroke-width="2.6" fill="none"/>
<path d="M350.1 252.1L356.6 238.9L363.2 245.4Z" fill="#000"/>
<path d="M209.8 786.7L257.3 823.1" stroke="#000" stroke-width="2.6" fill="none"/>
<path d="M266.8 830.4L252.9 825.5L258.5 818.2Z" fill="#000"/>
<path d="M355.1 712.4L313.7 771.7" stroke="#000" stroke-width="2.6" fill="none"/>
<path d="M306.8 781.5L311.1 767.4L318.6 772.7Z" fill="#000"/>
<path d="M430.7 770.4L371.1 813.7" stroke="#000" stroke-width="2.6" fill="none"/>
<path d="M361.4 820.8L370.0 808.8L375.4 816.3Z" fill="#000"/>
<g style="will-change:transform">
<text transform="translate(139.5 488.5) scale(1.06 1)" font-size="29" font-weight="bold" text-anchor="middle">525</text>
<text transform="translate(265.9 488.5) scale(1.06 1)" font-size="29" font-weight="bold" text-anchor="middle">530</text>
<text transform="translate(392.3 488.5) scale(1.06 1)" font-size="29" font-weight="bold" text-anchor="middle">535</text>
<text transform="translate(518.6 488.5) scale(1.06 1)" font-size="29" font-weight="bold" text-anchor="middle">540</text>
<text transform="translate(645 488.5) scale(1.06 1)" font-size="29" font-weight="bold" text-anchor="middle">545</text>
<text transform="translate(139.5 1148.4) scale(1.06 1)" font-size="29" font-weight="bold" text-anchor="middle">525</text>
<text transform="translate(265.9 1148.4) scale(1.06 1)" font-size="29" font-weight="bold" text-anchor="middle">530</text>
<text transform="translate(392.3 1148.4) scale(1.06 1)" font-size="29" font-weight="bold" text-anchor="middle">535</text>
<text transform="translate(518.6 1148.4) scale(1.06 1)" font-size="29" font-weight="bold" text-anchor="middle">540</text>
<text transform="translate(645 1148.4) scale(1.06 1)" font-size="29" font-weight="bold" text-anchor="middle">545</text>
<text transform="translate(226 543) scale(1.086 1)" font-size="31" font-weight="bold">Binding Energy/eV</text>
<text transform="translate(249.4 1207.7) scale(1.086 1)" font-size="31" font-weight="bold">Binding Energy/eV</text>
<text transform="translate(115.6 55.6) scale(1.035 1)" font-size="53" font-weight="bold">a</text>
<text transform="translate(120.3 693.0) scale(1.06 1)" font-size="53" font-weight="bold">b</text>
<text transform="translate(25.6 270) rotate(-90) scale(1.03 1.15)" font-size="30" font-weight="bold">count/s</text>
<text transform="translate(25.9 919.5) rotate(-90) scale(1.03 1.15)" font-size="30" font-weight="bold">count/s</text>
<text transform="translate(178.5 123.5) scale(1.06 1)" font-size="25">O</text>
<text transform="translate(198 113.7) scale(1.06 1)" font-size="16.5">2</text>
<text transform="translate(352.5 90.9) scale(1.06 1)" font-size="25">OH</text>
<text transform="translate(397.5 190.6) scale(1.06 1)" font-size="25">H</text>
<text transform="translate(417 197.2) scale(1.06 1)" font-size="16.5">2</text>
<text transform="translate(426 190.9) scale(1.06 1)" font-size="25">O</text>
<text transform="translate(173.1 788) scale(1.06 1)" font-size="25">O</text>
<text transform="translate(192.5 778) scale(1.06 1)" font-size="16.5">2</text>
<text transform="translate(339.6 702.6) scale(1.06 1)" font-size="25">OH</text>
<text transform="translate(436.7 777) scale(1.06 1)" font-size="25">H</text>
<text transform="translate(456.7 783.7) scale(1.06 1)" font-size="16.5">2</text>
<text transform="translate(465.4 777.3) scale(1.06 1)" font-size="25">O</text>
<rect x="207.2" y="109.0" width="5.10" height="1.80" fill="#000"/>
<rect x="391.8" y="76.6" width="4.60" height="1.60" fill="#000"/>
<rect x="200.9" y="773.4" width="5.70" height="1.80" fill="#000"/>
<rect x="379.3" y="687.5" width="4.60" height="1.70" fill="#000"/>
</g>
</svg>
</body></html>
